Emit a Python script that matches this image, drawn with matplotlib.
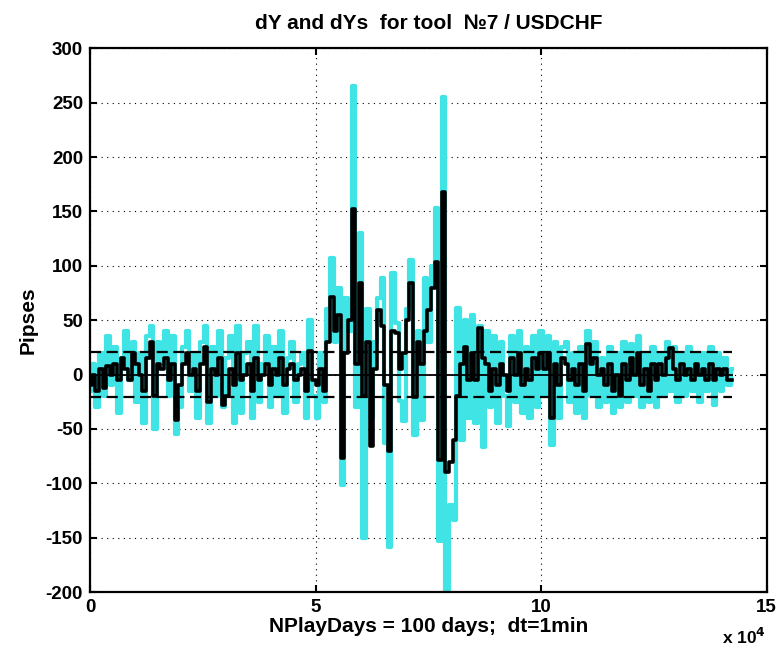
import matplotlib
matplotlib.use("Agg")
import matplotlib.pyplot as plt
import numpy as np

plt.rcParams['font.family'] = ['Liberation Sans', 'DejaVu Sans']
plt.rcParams['font.weight'] = 'bold'

step = 800  # minutes between samples
dY = [
    -15, 10, -30, 20, -20, 35, -10, 25, -35, 15,
    40, -5, 30, -25, 20, -45, 35, 45, -50, 30,
    10, 40, -20, 35, -55, -30, 25, 40, -15, 20,
    -40, 30, 45, -45, 25, -20, 40, -30, 15, 35,
    -45, 45, -35, 20, 30, -40, 45, -25, 10, 35,
    -30, 25, -20, 40, -35, 15, 30, -25, 10, 20,
    -40, 50, -20,
    -40, 20, -25, 60, 107, 30, 80, -102, 70, 40,
    265, -30, 130, -150, 60, -40, 30, 70, 89, -63,
    -159, 93, 47, -24, -43, 60, 105, -56, 40, -42,
    89, 30, 100, 153, -153, 255, -205, -120, -134, 61,
    -60, 50, -40,
    55, -45, 45, -67, 40, -30, 35, -45, 30, -20,
    -47, 35, -25, 40, -35, 25, -40, 35, -30, 40,
    -20, 35, -65, 30, -40, 25,
    30, -25, 20, -35, 25, -40, 40, -20, 30, -30,
    15, -25, 25, -35, 20, -30, 30, -25, 28, -20,
    35, -30, 20, -25, 25, -30, 20, -20, 30, -15,
    25, -25, 20, -20, 25, -15, 20, -25, 20, -15,
    25, -28, 20, -15, 15, -10, 5,
]
dYs = [
    -10, 0, -15, 5, -12, 8, 0, 10, -5, 15,
    5, -5, 20, 10, 0, -15, 15, 30, -20, 10,
    5, 15, -5, 10, -42, -10, 10, 20, 0, 5,
    -15, 10, 25, -25, 5, 0, 15, -28, -20, 5,
    -10, 20, -5, 0, 10, -15, 15, -5, 0, 10,
    -10, 5, 0, 15, -10, 5, 10, -5, 0, 5,
    -15, 22, -5,
    -10, 5, -15, 30, 71, 40, 55, -77, 20, 50,
    152, 10, 84, -20, 30, -66, 5, 59, 45, -10,
    -70, 40, 38, 5, 20, 50, 84, -21, 30, 10,
    40, 59, 80, 103, -79, 168, -90, -80, -60, -20,
    10, 25, -5,
    20, -5, 43, 15, 10, -15, 5, -10, 10, 0,
    -15, 15, 0, 20, -10, 5, -5, 15, 5, 20,
    5, 20, -40, 10, -10, 15,
    10, -5, 5, -10, 10, -15, 28, 10, 15, 0,
    5, -10, 10, -15, 0, -20, 10, -5, 15, 0,
    20, -10, 5, -15, 10, -5, 10, 0, 15, 24,
    5, -5, 10, 0, 5, -5, 10, 0, 5, -5,
    10, -5, 5, 0, 5, -5, -5,
]
band = 21
x = np.arange(len(dY)) * step
xs = np.arange(len(dYs)) * step

FS = 13.5
FL = 15
fig = plt.figure(figsize=(7.76, 6.52), dpi=100)
ax = fig.add_axes([0.116, 0.092, 0.872, 0.834])
ax.plot(x, dY, color='#40e4e4', lw=3.0, drawstyle='steps-mid')
ax.plot(xs, dYs, color='black', lw=2.6, drawstyle='steps-mid')
ax.plot([x[0], x[-1]], [0, 0], color='black', lw=1.3)
ax.plot([x[0], x[-1]], [band, band], color='black', lw=1.6, ls=(0, (5, 2.5)))
ax.plot([x[0], x[-1]], [-band, -band], color='black', lw=1.6, ls=(0, (5, 2.5)))

ax.set_xlim(0, 150000)
ax.set_ylim(-200, 300)
ax.set_xticks([0, 50000, 100000, 150000])
ax.set_xticklabels(['0', '5', '10', '15'])
ax.set_yticks(np.arange(-200, 301, 50))
ax.set_yticklabels([str(v) for v in range(-200, 301, 50)])
ax.grid(True, color='black', ls=(0, (1, 4)), lw=0.8)
ax.tick_params(direction='in', length=5, width=1.5, top=True, right=True,
               labelsize=FS, pad=5)
for lab in ax.get_xticklabels() + ax.get_yticklabels():
    lab.set_fontweight('bold')
for s in ax.spines.values():
    s.set_linewidth(1.6)

ax.set_title('dY and dYs  for tool  \u21167 / USDCHF', fontsize=FL, fontweight='bold', pad=14)
ax.set_xlabel('NPlayDays = 100 days;  dt=1min', fontsize=FL, fontweight='bold', labelpad=1)
ax.set_ylabel('Pipses', fontsize=FL, fontweight='bold', labelpad=6)
fig.text(0.93, 0.012, r'x 10$^{4}$', fontsize=FS - 1, fontweight='bold')

fig.savefig('out.png', dpi=100)
